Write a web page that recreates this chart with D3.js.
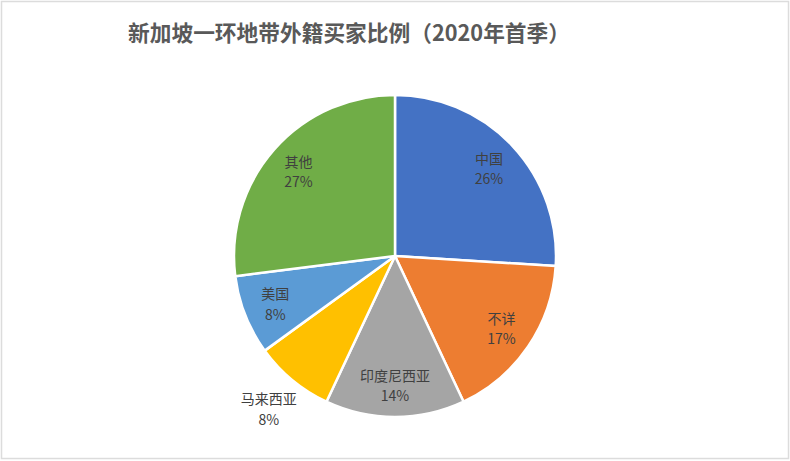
<!DOCTYPE html>
<html>
<head>
<meta charset="utf-8">
<script src="https://cdn.jsdelivr.net/npm/d3@7"></script>
<style>
	body { margin: 0; background: #fff; }
	svg { display: block; }
</style>
</head>
<body>
<div id="chart"></div>
<script>
// chart data
var categories = ["中国", "不详", "印度尼西亚", "马来西亚", "美国", "其他"];
var shares = [26, 17, 14, 8, 8, 27];
var sliceColors = ["#4472C4", "#ED7D31", "#A5A5A5", "#FFC000", "#5B9BD5", "#70AD47"];
var chartTitle = "新加坡一环地带外籍买家比例（2020年首季）";

var width = 790, height = 461
	, cx = 395, cy = 256, radius = 161
	, fontFamily = "'Noto Sans CJK SC', 'Noto Sans', sans-serif";

var svg = d3.select("#chart").append("svg")
	.attr("width", width)
	.attr("height", height);

// faint frame round the whole picture
svg.append("rect")
	.attr("x", 1.5).attr("y", 1.5)
	.attr("width", width - 3).attr("height", height - 4)
	.attr("fill", "#fff")
	.attr("stroke", "#dcdcdc")
	.attr("stroke-width", 1.5);

svg.append("text")
	.attr("x", 349).attr("y", 41)
	.attr("text-anchor", "middle")
	.attr("textLength", 442)
	.attr("lengthAdjust", "spacingAndGlyphs")
	.style("font-family", fontFamily)
	.style("font-size", "22px")
	.style("font-weight", "bold")
	.style("fill", "#595959")
	.text(chartTitle);

var data = categories.map(function(c, i) { return {name: c, value: shares[i], color: sliceColors[i]}; });

var pie = d3.pie().sort(null).value(function(d) { return d.value; });
var arc = d3.arc().innerRadius(0).outerRadius(radius);

var g = svg.append("g").attr("transform", "translate(" + cx + "," + cy + ")");
var arcs = pie(data);

g.selectAll("path.slice").data(arcs)
	.enter().append("path")
	.attr("class", "slice")
	.attr("d", arc)
	.attr("fill", function(d) { return d.data.color; })
	.attr("stroke", "#fff")
	.attr("stroke-width", 2.5)
	.attr("stroke-linejoin", "round");

// labels sit inside at ~0.8r, small slices get pushed out
var labelArcIn = d3.arc().innerRadius(radius * 0.8).outerRadius(radius * 0.8);
var labelArcOut = d3.arc().innerRadius(radius * 1.23).outerRadius(radius * 1.23);

var label = g.selectAll("text.lbl").data(arcs)
	.enter().append("text")
	.attr("class", "lbl")
	.attr("transform", function(d) {
		var p = d.data.name === "马来西亚" ? labelArcOut.centroid(d) : labelArcIn.centroid(d);
		return "translate(" + p[0] + "," + p[1] + ")";
	})
	.attr("text-anchor", "middle")
	.style("font-family", fontFamily)
	.style("font-size", "14px")
	.style("fill", "#404040");

label.append("tspan")
	.attr("x", 0).attr("dy", "-0.3em")
	.text(function(d) { return d.data.name; });
label.append("tspan")
	.attr("x", 0).attr("dy", "1.45em")
	.text(function(d) { return d.data.value + "%"; });
</script>
</body>
</html>
